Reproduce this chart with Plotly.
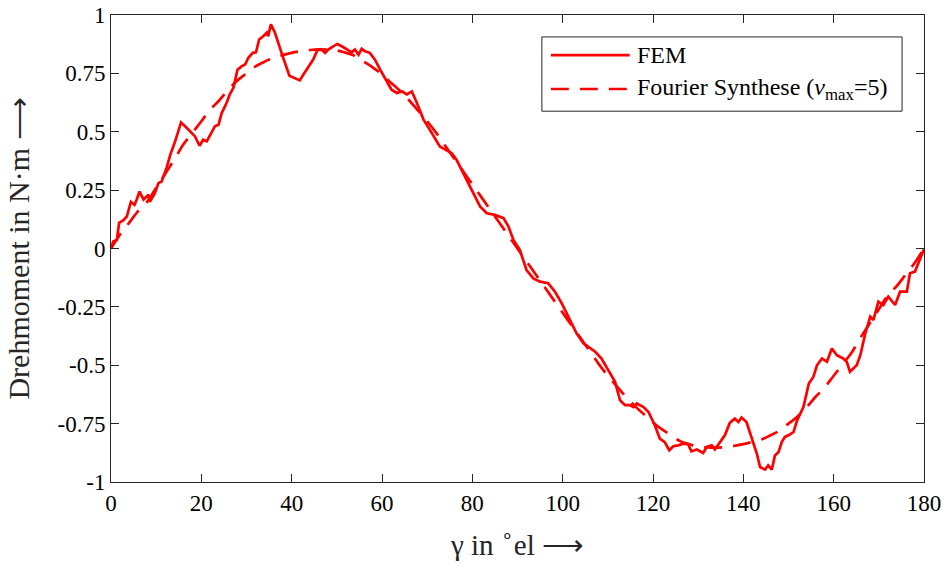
import plotly.graph_objects as go

# FEM torque
fem_x = [0, 0.5, 1.3, 1.8, 2.7, 3.5, 4.4, 5.2, 5.7, 6.3, 7.2, 8.3, 8.6, 9.7, 10.5, 11.2, 12.3, 13.1, 14.2,
         15.5, 16.8, 18.6, 19.6, 20.4, 21.2, 22.1, 23.0, 23.8, 24.5, 25.6, 26.3, 27.1, 28.0, 28.9, 29.7,
         30.4, 31.4, 32.1, 32.8, 33.7, 34.5, 34.8, 35.4, 36.3, 37.0, 38.0, 39.5, 40.7, 41.8, 42.6, 44.0,
         44.8, 45.7, 46.6, 47.4, 48.1, 49.2, 50.1, 51.1, 52.2, 53.3, 54.0, 54.8, 55.5, 56.2, 57.3, 58.4,
         59.6, 61.0, 62.1, 63.3, 64.4, 65.5, 66.6, 67.7, 69.2, 71.0, 72.8, 74.7, 75.4, 76.5, 78.4, 80.2,
         81.7, 83.2, 85.0, 86.9, 88.0, 89.1, 90.5, 92.0, 93.5, 95.0, 96.8, 98.3, 99.8, 101.6, 103.1, 104.6,
         105.7, 107.2, 108.6, 110.1, 111.6, 112.7, 113.8, 114.9, 115.7, 116.4, 117.9, 119.0, 120.4, 121.5,
         122.6, 123.6, 124.5, 125.6, 126.7, 127.8, 128.5, 129.7, 131.1, 131.9, 133.0, 133.7, 135.2, 135.9,
         137.0, 138.1, 138.9, 139.6, 140.7, 141.9, 143.0, 143.7, 144.8, 145.5, 146.3, 147.0, 147.8, 148.5,
         149.2, 150.0, 151.1, 151.9, 153.3, 154.5, 155.5, 156.3, 157.4, 158.5, 159.6, 160.7, 162.1, 162.9,
         163.6, 165.1, 165.9, 167.0, 168.1, 168.8, 169.9, 171.0, 172.1, 173.6, 174.7, 176.2, 176.9, 178.0,
         178.8, 180.0]
fem_y = [0, 0.03, 0.037, 0.11, 0.12, 0.137, 0.20, 0.187, 0.21, 0.244, 0.21, 0.23, 0.20, 0.237, 0.28, 0.287,
         0.345, 0.40, 0.459, 0.54, 0.516, 0.48, 0.44, 0.466, 0.459, 0.488, 0.523, 0.53, 0.58, 0.624, 0.66,
         0.688, 0.766, 0.78, 0.788, 0.817, 0.838, 0.84, 0.895, 0.909, 0.924, 0.909, 0.96, 0.924, 0.88, 0.824,
         0.74, 0.73, 0.72, 0.745, 0.788, 0.81, 0.85, 0.852, 0.838, 0.852, 0.866, 0.876, 0.866, 0.852, 0.84,
         0.852, 0.83, 0.855, 0.845, 0.838, 0.81, 0.766, 0.716, 0.68, 0.666, 0.673, 0.66, 0.673, 0.624, 0.552,
         0.495, 0.437, 0.416, 0.409, 0.38, 0.309, 0.237, 0.18, 0.151, 0.144, 0.13, 0.094, 0.037, -0.006,
         -0.092, -0.128, -0.142, -0.149, -0.185, -0.235, -0.306, -0.364, -0.406, -0.421, -0.442, -0.471,
         -0.521, -0.571, -0.65, -0.671, -0.671, -0.679, -0.664, -0.679, -0.70, -0.757, -0.814, -0.829, -0.864,
         -0.847, -0.843, -0.836, -0.839, -0.869, -0.861, -0.876, -0.85, -0.843, -0.861, -0.82, -0.80, -0.747,
         -0.728, -0.743, -0.724, -0.743, -0.814, -0.879, -0.936, -0.947, -0.929, -0.947, -0.886, -0.872,
         -0.829, -0.807, -0.80, -0.786, -0.736, -0.679, -0.578, -0.55, -0.50, -0.471, -0.485, -0.428, -0.457,
         -0.471, -0.485, -0.528, -0.50, -0.457, -0.364, -0.292, -0.306, -0.228, -0.242, -0.206, -0.242,
         -0.185, -0.185, -0.106, -0.099, -0.063, -0.003]

# Fourier synthesis (nu_max = 5), every 2 degrees
fs_x = list(range(0, 181, 2))
fs_y = [0, 0.06, 0.11, 0.16, 0.20, 0.26, 0.32, 0.38, 0.445, 0.495, 0.545, 0.595, 0.635, 0.68, 0.72, 0.75,
        0.78, 0.80, 0.818, 0.828, 0.838, 0.845, 0.85, 0.853, 0.852, 0.848, 0.838, 0.825, 0.80, 0.775, 0.745,
        0.71, 0.675, 0.635, 0.59, 0.545, 0.495, 0.44, 0.385, 0.33, 0.275, 0.22, 0.165, 0.11, 0.055, 0,
        -0.055, -0.11, -0.165, -0.22, -0.275, -0.33, -0.385, -0.44, -0.495, -0.545, -0.59, -0.635, -0.675,
        -0.71, -0.745, -0.775, -0.80, -0.825, -0.838, -0.848, -0.852, -0.853, -0.85, -0.845, -0.838, -0.828,
        -0.818, -0.80, -0.78, -0.75, -0.72, -0.68, -0.635, -0.595, -0.545, -0.495, -0.445, -0.38, -0.32,
        -0.26, -0.20, -0.16, -0.11, -0.06, 0]

series_names = ["FEM", "Fourier Synthese (<i>ν</i><sub>max</sub>=5)"]

x_ticks = [0, 20, 40, 60, 80, 100, 120, 140, 160, 180]
y_ticks = [-1, -0.75, -0.5, -0.25, 0, 0.25, 0.5, 0.75, 1]
y_tick_labels = ["-1", "-0.75", "-0.5", "-0.25", "0", "0.25", "0.5", "0.75", "1"]

FONT = "Liberation Serif, Times New Roman, serif"
RED = "#FF0000"
AX = "#262626"
DASH = "18px,11px"

fig = go.Figure()
fig.add_trace(go.Scatter(x=fem_x, y=fem_y, mode="lines", name=series_names[0], showlegend=False,
                         line=dict(color=RED, width=2.7)))
fig.add_trace(go.Scatter(x=fs_x, y=fs_y, mode="lines", line_shape="spline", name=series_names[1],
                         showlegend=False, line=dict(color=RED, width=2.7, dash=DASH)))

axis_common = dict(showgrid=False, zeroline=False, showline=True, linecolor=AX, linewidth=1,
                   mirror="ticks", ticks="inside", ticklen=8, tickwidth=1.2, tickcolor=AX,
                   automargin=False,
                   tickfont=dict(family=FONT, size=23, color="#000000"))

fig.update_xaxes(range=[0, 180], tickvals=x_ticks,
                 title=dict(text="γ in <sup>∘</sup>el ⟶", font=dict(family=FONT, size=29, color="#262626"),
                            standoff=20),
                 **axis_common)
fig.update_yaxes(range=[-1, 1], tickvals=y_ticks, ticktext=y_tick_labels,
                 title=dict(text="Drehmoment in N·m ⟶", font=dict(family=FONT, size=30, color="#262626"),
                            standoff=18),
                 **axis_common)

# Manual legend box (paper coordinates of the plot area)
box = dict(x0=0.530, x1=0.973, y0=0.794, y1=0.953)
row_y = [0.914, 0.8415]
line_x = [0.541, 0.638]
text_x = 0.645
shapes = [dict(type="rect", xref="paper", yref="paper", layer="above",
               line=dict(color=AX, width=1), fillcolor="white", **box)]
for i, dash in enumerate(["solid", DASH]):
    shapes.append(dict(type="line", xref="paper", yref="paper", layer="above",
                       x0=line_x[0], x1=line_x[1], y0=row_y[i], y1=row_y[i],
                       line=dict(color=RED, width=2.7, dash=dash)))
annotations = [dict(xref="paper", yref="paper", x=text_x, y=row_y[i], xanchor="left", yanchor="middle",
                    text=series_names[i], showarrow=False,
                    font=dict(family=FONT, size=24, color="#000000"))
               for i in range(2)]

fig.update_layout(
    width=946, height=573,
    margin=dict(l=111, r=22, t=15, b=91),
    paper_bgcolor="white", plot_bgcolor="white",
    font=dict(family=FONT, color="#000000"),
    showlegend=False,
    shapes=shapes,
    annotations=annotations,
)

fig.write_html("out.html")
